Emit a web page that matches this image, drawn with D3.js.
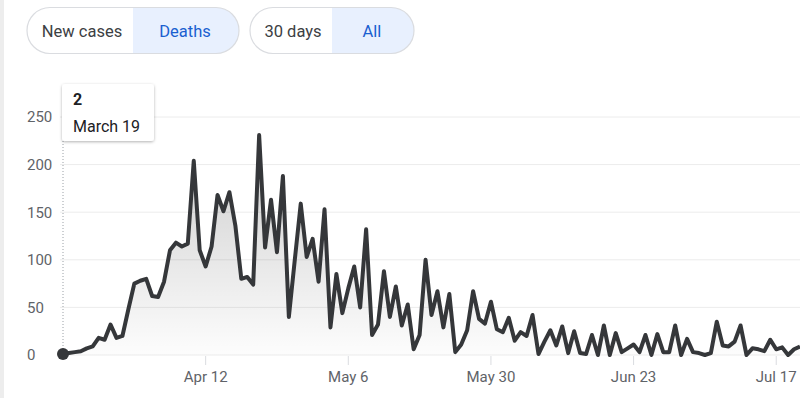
<!DOCTYPE html>
<html>
<head>
<meta charset="utf-8">
<script src="https://cdn.jsdelivr.net/npm/d3@7"></script>
<style>
  html, body { margin: 0; padding: 0; background: #fff; }
  svg { display: block; font-family: Roboto, "Noto Sans", sans-serif; }
</style>
</head>
<body>
<div id="chart"></div>
<script>
// daily deaths, one value per day starting March 19
const startDate = '2020-03-19';
const deaths = [
  2, 2, 3, 4, 7, 9, 18, 16, 32, 18,
  20, 48, 75, 78, 80, 62, 61, 77, 110, 118,
  114, 117, 204, 110, 93, 114, 168, 151, 171, 136,
  80, 82, 74, 231, 113, 163, 108, 188, 40, 100,
  159, 103, 122, 77, 153, 29, 85, 44, 70, 93,
  50, 132, 21, 32, 88, 40, 72, 31, 53, 6,
  21, 100, 42, 67, 29, 64, 3, 11, 26, 67,
  38, 33, 56, 27, 24, 39, 15, 24, 20, 42,
  1, 14, 26, 10, 30, 2, 25, 2, 1, 21,
  0, 31, 0, 23, 3, 7, 11, 3, 21, 0,
  22, 3, 3, 31, 0, 17, 3, 2, 0, 2,
  35, 10, 9, 14, 31, 0, 7, 6, 4, 16,
  6, 8, 0, 6, 9
];
const xTicks = ['2020-04-12', '2020-05-06', '2020-05-30', '2020-06-23', '2020-07-17'];
const yTicks = [0, 50, 100, 150, 200, 250];
const metricButtons = ['New cases', 'Deaths'];
const rangeButtons = ['30 days', 'All'];

const width = 800, height = 398;
const parse = d3.timeParse('%Y-%m-%d');
const t0 = parse(startDate);
const data = deaths.map((v, i) => ({ date: d3.timeDay.offset(t0, i), value: v }));

const svg = d3.select('#chart').append('svg')
  .attr('width', width).attr('height', height);

// card edge on the left
svg.append('rect').attr('x', 0).attr('y', 0).attr('width', 4).attr('height', height).attr('fill', '#ededed');

const x = d3.scaleTime()
  .domain([t0, d3.timeDay.offset(t0, deaths.length - 1)])
  .range([63, 800]);
const y = d3.scaleLinear().domain([0, 250]).range([355, 117]);

// toggle buttons
function pill(x0, w, split, labels, activeIdx) {
  const g = svg.append('g');
  const h = 46, y0 = 7.5, r = 23;
  const clipId = 'clip' + x0;
  g.append('clipPath').attr('id', clipId)
    .append('rect').attr('x', x0).attr('y', y0).attr('width', w).attr('height', h).attr('rx', r);
  g.append('rect').attr('x', x0 + split).attr('y', y0).attr('width', w - split).attr('height', h)
    .attr('fill', '#e8f0fe').attr('clip-path', `url(#${clipId})`);
  g.append('rect').attr('x', x0).attr('y', y0).attr('width', w).attr('height', h).attr('rx', r)
    .attr('fill', 'none').attr('stroke', '#dadce0').attr('stroke-width', 1.2);
  const centers = [x0 + split / 2 + 2, x0 + split + (w - split) / 2 - 1];
  labels.forEach((lab, i) => {
    g.append('text').attr('x', centers[i]).attr('y', 37)
      .attr('text-anchor', 'middle').attr('font-size', 16.5)
      .attr('fill', i === activeIdx ? '#1a5fd0' : '#3c4043')
      .text(lab);
  });
}
pill(27, 212, 106, metricButtons, 1);
pill(250, 164, 82, rangeButtons, 1);

// grid + y labels
svg.append('g').selectAll('line').data(yTicks).join('line')
  .attr('x1', 60).attr('x2', 800)
  .attr('y1', d => y(d)).attr('y2', d => y(d))
  .attr('stroke', '#ececec').attr('stroke-width', 1);
svg.append('g').selectAll('text').data(yTicks).join('text')
  .attr('x', 27).attr('y', d => y(d)).attr('dy', '0.36em')
  .attr('font-size', 15).attr('fill', '#5f6368')
  .text(d => d);

// x axis ticks + labels
const xDates = xTicks.map(parse);
const fmt = d3.timeFormat('%b %-d');
svg.append('g').selectAll('line').data(xDates).join('line')
  .attr('x1', d => x(d)).attr('x2', d => x(d))
  .attr('y1', 356).attr('y2', 365)
  .attr('stroke', '#dadce0').attr('stroke-width', 1);
svg.append('g').selectAll('text').data(xDates).join('text')
  .attr('x', d => x(d)).attr('y', 382)
  .attr('text-anchor', 'middle').attr('font-size', 15).attr('fill', '#5f6368')
  .text(d => fmt(d));

// area gradient
const defs = svg.append('defs');
const grad = defs.append('linearGradient').attr('id', 'areaGrad')
  .attr('gradientUnits', 'userSpaceOnUse')
  .attr('x1', 0).attr('x2', 0).attr('y1', y(230)).attr('y2', y(0));
grad.append('stop').attr('offset', '0%').attr('stop-color', '#000').attr('stop-opacity', 0.2);
grad.append('stop').attr('offset', '100%').attr('stop-color', '#000').attr('stop-opacity', 0.01);

const area = d3.area().x(d => x(d.date)).y0(y(0)).y1(d => y(d.value));
const line = d3.line().x(d => x(d.date)).y(d => y(d.value));

svg.append('path').datum(data).attr('d', area).attr('fill', 'url(#areaGrad)');

// hover guide
svg.append('line')
  .attr('x1', x(t0)).attr('x2', x(t0)).attr('y1', 141).attr('y2', y(0))
  .attr('stroke', '#9aa0a6').attr('stroke-width', 1).attr('stroke-dasharray', '1,2');

svg.append('path').datum(data).attr('d', line)
  .attr('fill', 'none').attr('stroke', '#35373a').attr('stroke-width', 4)
  .attr('stroke-linejoin', 'round');

svg.append('circle').attr('cx', x(t0)).attr('cy', y(data[0].value) + 1).attr('r', 6)
  .attr('fill', '#35373a');

// tooltip
const filt = defs.append('filter').attr('id', 'shadow').attr('x', -0.2).attr('y', -0.2).attr('width', 1.4).attr('height', 1.6);
filt.append('feDropShadow').attr('dx', 0).attr('dy', 1).attr('stdDeviation', 1.5)
  .attr('flood-color', '#000').attr('flood-opacity', 0.3);
const tip = svg.append('g');
tip.append('rect').attr('x', 62).attr('y', 84).attr('width', 92).attr('height', 57).attr('rx', 3)
  .attr('fill', '#fff').attr('filter', 'url(#shadow)');
tip.append('text').attr('x', 73).attr('y', 105).attr('font-size', 16).attr('font-weight', 'bold')
  .attr('fill', '#202124').text(data[0].value);
tip.append('text').attr('x', 73).attr('y', 132).attr('font-size', 16)
  .attr('fill', '#202124').text(d3.timeFormat('%B %-d')(t0));
</script>
</body>
</html>
